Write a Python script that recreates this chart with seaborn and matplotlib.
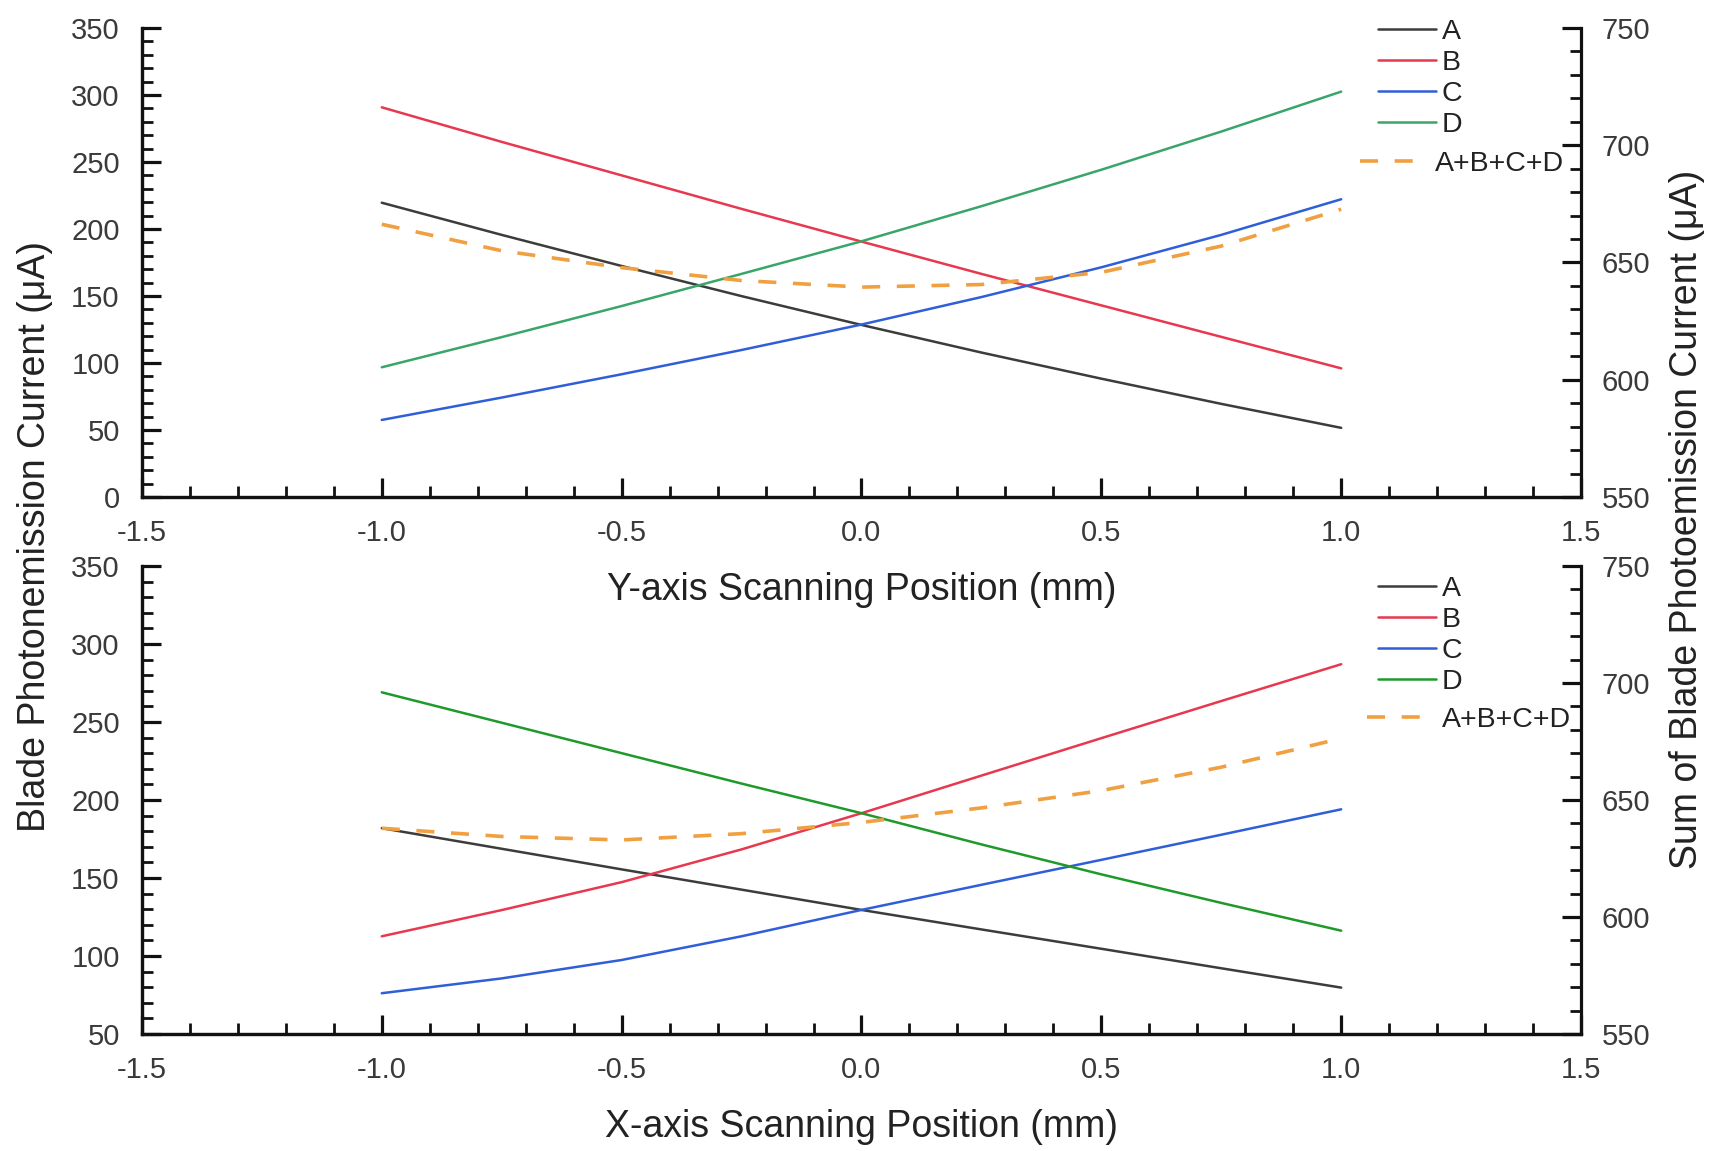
import matplotlib
matplotlib.use("Agg")
import matplotlib.pyplot as plt
from matplotlib.ticker import MultipleLocator, FormatStrFormatter
import seaborn as sns

# Scan positions (mm)
positions = [-1.0, -0.75, -0.5, -0.25, 0.0, 0.25, 0.5, 0.75, 1.0]

# Y-axis scan: blade photoemission currents (uA)
y_scan_A = [219.6, 195.6, 172.4, 149.9, 128.4, 107.8, 88.3, 69.5, 51.6]
y_scan_B = [290.8, 265.0, 240.0, 215.0, 190.6, 166.5, 143.0, 119.5, 96.0]
y_scan_C = [57.5, 74.2, 91.6, 109.7, 128.7, 149.2, 171.4, 195.6, 222.2]
y_scan_D = [96.8, 119.3, 142.5, 166.5, 190.8, 217.0, 244.2, 272.7, 302.5]
y_scan_sum = [666.3, 655.0, 647.8, 642.3, 639.5, 640.6, 645.8, 657.0, 672.7]

# X-axis scan: blade photoemission currents (uA)
x_scan_A = [181.9, 168.7, 155.5, 142.5, 129.5, 117.0, 104.6, 92.1, 79.7]
x_scan_B = [112.6, 129.4, 147.3, 168.3, 191.5, 215.6, 239.6, 263.4, 287.0]
x_scan_C = [76.1, 85.6, 97.4, 112.6, 129.5, 145.6, 161.6, 177.7, 194.0]
x_scan_D = [269.0, 249.5, 230.0, 210.5, 191.5, 171.5, 152.3, 134.0, 116.2]
x_scan_sum = [637.9, 634.4, 632.9, 635.6, 640.4, 646.6, 654.0, 664.0, 676.3]

blade_labels = ["A", "B", "C", "D"]
sum_label = "A+B+C+D"

sns.set_theme(style="ticks")
plt.rcParams["font.family"] = ["Liberation Sans", "DejaVu Sans"]

TICK_COLOR = "#3a3a3a"
LABEL_COLOR = "#222222"
TICK_FS = 21
LEGEND_FS = 20.5
LABEL_FS = 27
LW = 1.8
SPINE_W = 2.3

color_A = "#3c3c3c"
color_B = "#e8384f"
color_C = "#2f5fd8"
color_sum = "#f0a040"

fig = plt.figure(figsize=(17.12, 11.51), dpi=100)
ax_top = fig.add_axes([0.0829, 0.5682, 0.8406, 0.4075])
ax_bot = fig.add_axes([0.0829, 0.1017, 0.8406, 0.4066])
for a in (ax_top, ax_bot):
    a.set_facecolor("none")


def style_axes(ax, twin, ylim, xlabel):
    ax.set_xlim(-1.5, 1.5)
    ax.set_ylim(*ylim)
    twin.set_ylim(550, 750)
    twin.set_facecolor("none")
    for a in (ax, twin):
        a.spines["top"].set_visible(False)
        for s in ("left", "bottom", "right"):
            a.spines[s].set_linewidth(SPINE_W)
            a.spines[s].set_color("#111111")
    ax.spines["right"].set_visible(False)

    ax.xaxis.set_major_locator(MultipleLocator(0.5))
    ax.xaxis.set_minor_locator(MultipleLocator(0.1))
    ax.xaxis.set_major_formatter(FormatStrFormatter("%.1f"))
    ax.yaxis.set_major_locator(MultipleLocator(50))
    ax.yaxis.set_minor_locator(MultipleLocator(10))
    twin.yaxis.set_major_locator(MultipleLocator(50))
    twin.yaxis.set_minor_locator(MultipleLocator(10))

    ax.tick_params(axis="both", which="major", direction="in", length=14,
                   width=SPINE_W, colors="#111111", labelcolor=TICK_COLOR,
                   labelsize=TICK_FS, pad=16, top=False, right=False)
    ax.tick_params(axis="both", which="minor", direction="in", length=8,
                   width=2.0, colors="#111111", top=False, right=False)
    twin.tick_params(axis="y", which="major", direction="in", length=14,
                     width=SPINE_W, colors="#111111", labelcolor=TICK_COLOR,
                     labelsize=TICK_FS, pad=15, left=False, right=True)
    twin.tick_params(axis="y", which="minor", direction="in", length=8,
                     width=2.0, colors="#111111", left=False, right=True)
    twin.tick_params(axis="x", which="both", bottom=False, top=False,
                     labelbottom=False)

    ax.set_xlabel(xlabel, fontsize=LABEL_FS, color=LABEL_COLOR)
    ax.xaxis.set_label_coords(0.5, -0.160)
    ax.set_ylabel("")
    twin.set_ylabel("")


def draw_panel(ax, a, b, c, d, total, d_color, ylim, xlabel, leg_top, sum_top, sum_left):
    twin = ax.twinx()
    series = [(a, color_A), (b, color_B), (c, color_C), (d, d_color)]
    for values, col in series:
        sns.lineplot(x=positions, y=values, ax=ax, color=col, linewidth=LW)
    sns.lineplot(x=positions, y=total, ax=twin, color=color_sum, linewidth=2.6)
    sum_line = twin.lines[-1]
    sum_line.set_linestyle((0, (5.0, 4.6)))

    style_axes(ax, twin, ylim, xlabel)

    fig.legend(ax.lines[:4], blade_labels, loc="upper left",
               bbox_to_anchor=(0.8049, leg_top), bbox_transform=fig.transFigure,
               frameon=False, fontsize=LEGEND_FS, borderpad=0, borderaxespad=0,
               handlelength=2.05, handletextpad=0.18, labelspacing=0.18,
               labelcolor=LABEL_COLOR)
    fig.legend([sum_line], [sum_label], loc="upper left",
               bbox_to_anchor=(sum_left, sum_top), bbox_transform=fig.transFigure,
               frameon=False, fontsize=LEGEND_FS, borderpad=0, borderaxespad=0,
               handlelength=2.0, handletextpad=0.62, labelcolor=LABEL_COLOR)


draw_panel(ax_top, y_scan_A, y_scan_B, y_scan_C, y_scan_D, y_scan_sum,
           "#3aa569", (0, 350), "Y-axis Scanning Position (mm)",
           0.9835, 0.8690, 0.7944)
draw_panel(ax_bot, x_scan_A, x_scan_B, x_scan_C, x_scan_D, x_scan_sum,
           "#1f9a2a", (50, 350), "X-axis Scanning Position (mm)",
           0.5000, 0.3860, 0.7985)

fig.text(0.0204, 0.5343, "Blade Photonemission Current (\u03bcA)", rotation=90,
         ha="center", va="center", fontsize=LABEL_FS, color=LABEL_COLOR)
fig.text(0.9854, 0.549, "Sum of Blade Photoemission Current (\u03bcA)", rotation=90,
         ha="center", va="center", fontsize=LABEL_FS, color=LABEL_COLOR)

fig.savefig("out.png", dpi=100, facecolor="white")
